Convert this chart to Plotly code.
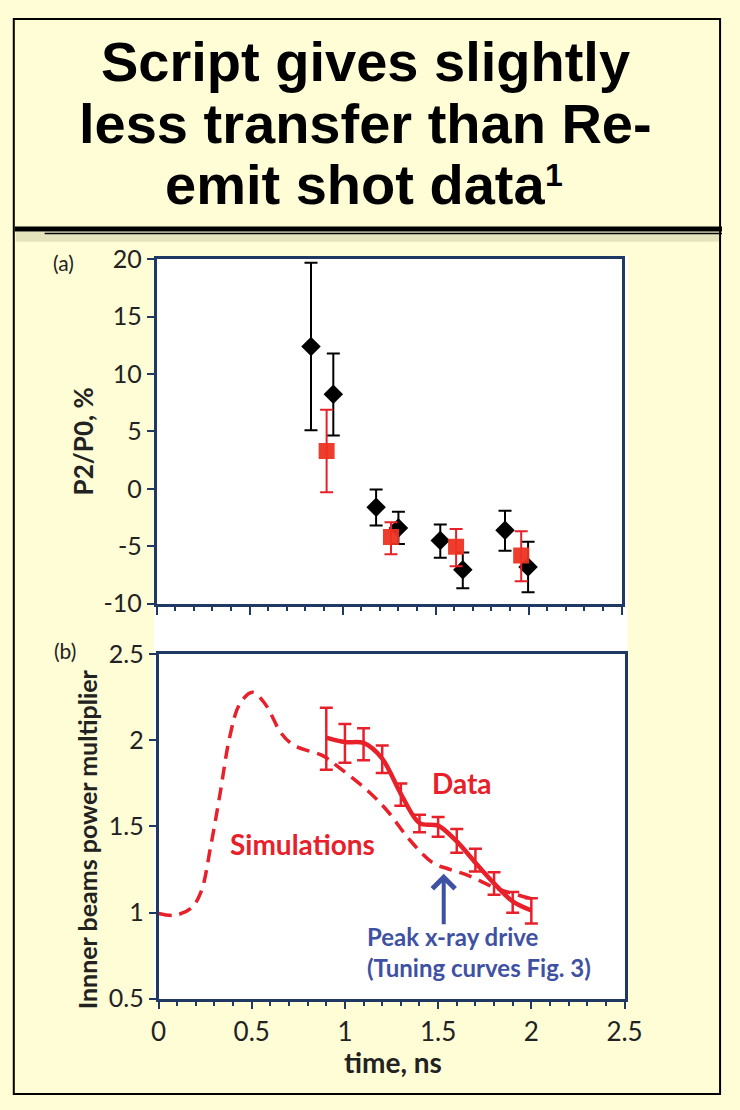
import plotly.graph_objects as go

# ---------------- data ----------------
# Panel (a): P2/P0 (%) vs time (ns)
a_black_t = [0.83, 0.95, 1.18, 1.30, 1.525, 1.646, 1.873, 1.997]
a_black_v = [12.4, 8.25, -1.6, -3.4, -4.5, -7.05, -3.6, -6.8]
a_black_hi = [19.7, 11.8, -0.05, -2.0, -3.1, -5.55, -1.9, -4.6]
a_black_lo = [5.1, 4.65, -3.2, -4.8, -6.0, -8.65, -5.4, -9.0]

a_red_t = [0.914, 1.26, 1.61, 1.96]
a_red_v = [3.3, -4.2, -5.05, -5.8]
a_red_hi = [6.9, -2.9, -3.5, -3.7]
a_red_lo = [-0.3, -5.7, -6.75, -8.05]

a_ytickvals = [-10, -5, 0, 5, 10, 15, 20]
a_yticktext = ["-10", "-5", "0", "5", "10", "15", "20"]

# Panel (b): inner beams power multiplier vs time (ns)
sim_t = [0, 0.09, 0.176, 0.228, 0.28, 0.33, 0.383, 0.435, 0.504, 0.573, 0.659,
         0.728, 0.883, 0.952, 1.125, 1.228, 1.349, 1.47, 1.556, 1.66, 1.815, 2.02]
sim_v = [0.995, 0.985, 1.027, 1.12, 1.385, 1.69, 2.025, 2.21, 2.28, 2.21, 2.04,
         1.97, 1.91, 1.856, 1.705, 1.59, 1.42, 1.29, 1.253, 1.216, 1.14, 1.076]

dat_t = [0.9, 1.0, 1.1, 1.2, 1.3, 1.4, 1.5, 1.6, 1.7, 1.8, 1.9, 2.0]
dat_v = [2.016, 1.99, 1.985, 1.894, 1.69, 1.52, 1.505, 1.413, 1.29, 1.17, 1.065, 1.012]
dat_hi = [2.19, 2.095, 2.07, 1.97, 1.75, 1.568, 1.555, 1.485, 1.37, 1.234, 1.12, 1.084]
dat_lo = [1.83, 1.87, 1.885, 1.81, 1.62, 1.466, 1.44, 1.347, 1.238, 1.103, 0.999, 0.937]

arrow_t = 1.53
arrow_tail = 0.924
arrow_head = 1.225

title_lines = ["Script gives slightly", "less transfer than Re-", "emit shot data"]
title_sup = "1"

# ---------------- style ----------------
W, H = 740, 1110
BG = "#FFFDD6"
NAVY = "#1F3864"
RED = "#E8202A"
SQ_RED = "#EE3322"
BLUE = "#3F51A3"
TXT = "#222222"
FONT = "Lato"
TFONT = "Liberation Sans, Arial"


def px(x):
    return x / W


def py(y):
    return 1 - y / H


fig = go.Figure()

# Panel (a)
fig.add_trace(go.Scatter(
    x=a_black_t, y=a_black_v, mode="markers", xaxis="x", yaxis="y",
    marker=dict(symbol="diamond", size=15, color="black"),
    error_y=dict(type="data", symmetric=False,
                 array=[h - v for h, v in zip(a_black_hi, a_black_v)],
                 arrayminus=[v - l for v, l in zip(a_black_v, a_black_lo)],
                 color="black", thickness=2, width=6.5),
    showlegend=False))
fig.add_trace(go.Scatter(
    x=a_red_t, y=a_red_v, mode="markers", xaxis="x", yaxis="y",
    marker=dict(symbol="square", size=16, color=SQ_RED, opacity=0.95),
    error_y=dict(type="data", symmetric=False,
                 array=[h - v for h, v in zip(a_red_hi, a_red_v)],
                 arrayminus=[v - l for v, l in zip(a_red_v, a_red_lo)],
                 color=RED, thickness=2, width=6.5),
    showlegend=False))

# Panel (b)
fig.add_trace(go.Scatter(
    x=sim_t, y=sim_v, mode="lines", xaxis="x2", yaxis="y2",
    line=dict(color=RED, width=3.5, dash="13px,8px", shape="spline", smoothing=1.0),
    showlegend=False))
fig.add_trace(go.Scatter(
    x=dat_t, y=dat_v, mode="lines", xaxis="x2", yaxis="y2",
    line=dict(color=RED, width=4.5, shape="spline", smoothing=0.9),
    error_y=dict(type="data", symmetric=False,
                 array=[h - v for h, v in zip(dat_hi, dat_v)],
                 arrayminus=[v - l for v, l in zip(dat_v, dat_lo)],
                 color=RED, thickness=2.5, width=6.5),
    showlegend=False))

axis_common = dict(showline=True, linecolor=NAVY, linewidth=2.5, mirror=True,
                   showgrid=False, zeroline=False, ticks="outside",
                   tickcolor=NAVY, tickwidth=2)

fig.update_layout(
    width=W, height=H,
    margin=dict(l=0, r=0, t=0, b=0),
    paper_bgcolor=BG, plot_bgcolor="white",
    font=dict(family=FONT, color=TXT),
    xaxis=dict(domain=[px(154), px(636)], anchor="y", range=[0, 2.5], dtick=0.5,
               ticklen=9, showticklabels=False,
               minor=dict(dtick=0.1, ticks="outside", ticklen=5, tickcolor=NAVY, tickwidth=2),
               **axis_common),
    yaxis=dict(domain=[py(604), py(250)], anchor="x", range=[-10, 20],
               tickvals=a_ytickvals, ticktext=a_yticktext, ticklen=7,
               tickfont=dict(size=25, family=FONT, color=TXT),
               **axis_common),
    xaxis2=dict(domain=[px(156), px(639)], anchor="y2", range=[0, 2.5], dtick=0.5,
                ticklen=8, tickfont=dict(size=26, family=FONT, color=TXT),
                minor=dict(dtick=0.1, ticks="outside", ticklen=5, tickcolor=NAVY, tickwidth=2),
                **axis_common),
    yaxis2=dict(domain=[py(1010), py(656)], anchor="x2", range=[0.5, 2.5], dtick=0.5,
                ticklen=7, tickfont=dict(size=25, family=FONT, color=TXT),
                **axis_common),
)

shapes = [
    # white backdrop behind both panels
    dict(type="rect", xref="paper", yref="paper", x0=px(151), x1=px(642), y0=py(1012), y1=py(247),
         fillcolor="white", line=dict(width=0), layer="below"),
    # outer border
    dict(type="rect", xref="paper", yref="paper", x0=px(6), x1=px(738), y0=py(1108), y1=py(3),
         fillcolor="rgba(0,0,0,0)", line=dict(color="black", width=2)),
    # shadow under title rule
    dict(type="rect", xref="paper", yref="paper", x0=px(8), x1=px(737), y0=py(232), y1=py(222),
         fillcolor="rgba(110,110,70,0.18)", line=dict(width=0)),
    # title rule
    dict(type="line", xref="paper", yref="paper", x0=px(7), x1=1.0, y0=py(219), y1=py(219),
         line=dict(color="black", width=5)),
    dict(type="line", xref="paper", yref="paper", x0=px(38), x1=1.0, y0=py(223.5), y1=py(223.5),
         line=dict(color="black", width=1.5)),
]
fig.update_layout(shapes=shapes)

ann = []
title_y = [47, 110, 173]
title_x = [370, 370, 360]
for line, xx, yy in zip(title_lines, title_x, title_y):
    ann.append(dict(xref="paper", yref="paper", x=px(xx), y=py(yy), text="<b>" + line + "</b>",
                    showarrow=False, xanchor="center", yanchor="middle",
                    font=dict(family=TFONT, size=56, color="black")))
ann.append(dict(xref="paper", yref="paper", x=px(555), y=py(163), text="<b>" + title_sup + "</b>",
                showarrow=False, xanchor="left", yanchor="middle", borderpad=0,
                font=dict(family=TFONT, size=32, color="black")))

ann += [
    dict(xref="paper", yref="paper", x=px(58), y=py(253), text="(a)", showarrow=False,
         xanchor="center", yanchor="middle", font=dict(size=21, family=FONT, color=TXT)),
    dict(xref="paper", yref="paper", x=px(59), y=py(652), text="(b)", showarrow=False,
         xanchor="center", yanchor="middle", font=dict(size=21, family=FONT, color=TXT)),
    dict(xref="paper", yref="paper", x=px(78), y=py(437), text="<b>P2/P0, %</b>", showarrow=False,
         textangle=-90, xanchor="center", yanchor="middle", font=dict(size=26, family=FONT, color=TXT)),
    dict(xref="paper", yref="paper", x=px(82), y=py(846), text="<b>Innner beams power multiplier</b>",
         showarrow=False, textangle=-90, xanchor="center", yanchor="middle",
         font=dict(size=25, family=FONT, color=TXT)),
    dict(xref="paper", yref="paper", x=px(399), y=py(1075), text="<b>time, ns</b>", showarrow=False,
         xanchor="center", yanchor="middle", font=dict(size=28, family=FONT, color=TXT)),
    dict(xref="x2", yref="y2", x=0.774, y=1.40, text="<b>Simulations</b>", showarrow=False,
         xanchor="center", yanchor="middle", font=dict(size=28, family=FONT, color=RED)),
    dict(xref="x2", yref="y2", x=1.628, y=1.754, text="<b>Data</b>", showarrow=False,
         xanchor="center", yanchor="middle", font=dict(size=28, family=FONT, color=RED)),
    dict(xref="x2", yref="y2", x=1.105, y=0.862, text="<b>Peak x-ray drive</b>", showarrow=False,
         xanchor="left", yanchor="middle", font=dict(size=24, family=FONT, color=BLUE)),
    dict(xref="x2", yref="y2", x=1.105, y=0.681, text="<b>(Tuning curves Fig. 3)</b>", showarrow=False,
         xanchor="left", yanchor="middle", font=dict(size=24, family=FONT, color=BLUE)),
    dict(xref="x2", yref="y2", axref="x2", ayref="y2", x=arrow_t, y=arrow_head,
         ax=arrow_t, ay=arrow_tail, text="", showarrow=True, arrowhead=4, arrowsize=1.1,
         arrowwidth=4, arrowcolor=BLUE, standoff=0, startstandoff=0),
]
fig.update_layout(annotations=ann)

fig.write_html("out.html")
